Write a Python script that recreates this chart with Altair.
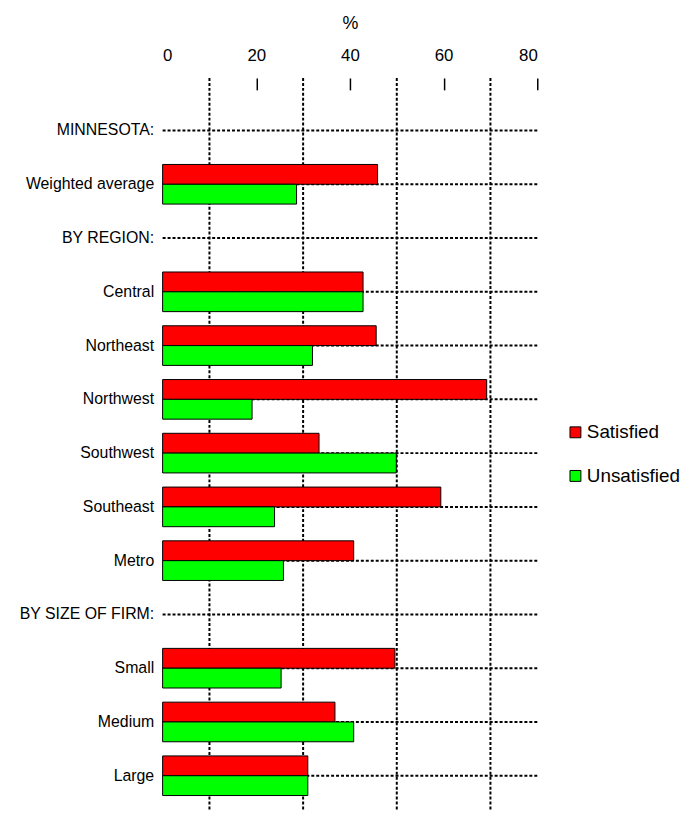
import altair as alt
import pandas as pd

categories = ["MINNESOTA:", "Weighted average", "BY REGION:", "Central", "Northeast",
              "Northwest", "Southwest", "Southeast", "Metro", "BY SIZE OF FIRM:",
              "Small", "Medium", "Large"]
satisfied = [None, 45.9, None, 42.8, 45.6, 69.2, 33.4, 59.4, 40.8, None, 49.6, 36.8, 31.0]
unsatisfied = [None, 28.6, None, 42.8, 32.0, 19.1, 49.9, 23.9, 25.8, None, 25.3, 40.8, 31.0]
series = ["Satisfied", "Unsatisfied"]
colors = ["#ff0000", "#00ff00"]
x_domain = [0, 80]
x_ticks = [0, 20, 40, 60, 80]
grid_values = [10, 30, 50, 70]

rows = []
for c, s, u in zip(categories, satisfied, unsatisfied):
    if s is not None:
        rows.append({"category": c, "series": "Satisfied", "value": s})
    if u is not None:
        rows.append({"category": c, "series": "Unsatisfied", "value": u})
bars_df = pd.DataFrame(rows)
cat_df = pd.DataFrame({"category": categories, "start": x_domain[0], "end": x_domain[1]})
grid_df = pd.DataFrame({"v": grid_values})

x_scale = alt.Scale(domain=x_domain, nice=False, zero=True)
y_scale = alt.Scale(domain=categories, paddingInner=0.263, paddingOuter=0.452, align=0.673)

x_axis = alt.Axis(orient="top", values=x_ticks, title="%", grid=False, domain=False,
                  tickSize=12, offset=-12, tickColor="black", tickWidth=1.5,
                  tickOpacity={"condition": {"test": "datum.value == 0", "value": 0}, "value": 1},
                  labelFontSize=17, labelColor="black", labelPadding=14,
                  titleFontSize=18, titleFontWeight="normal", titleColor="black",
                  titlePadding=14)
y_axis = alt.Axis(title=None, ticks=False, domain=False, grid=False, labelPadding=9,
                  labelFontSize=16, labelColor="black", labelLimit=300)

hlines = alt.Chart(cat_df).mark_rule(color="black", strokeWidth=2, strokeDash=[3, 2]).encode(
    y=alt.Y("category:N", scale=y_scale, sort=categories, axis=y_axis),
    x=alt.X("start:Q", scale=x_scale, axis=x_axis),
    x2="end:Q",
)

vlines = alt.Chart(grid_df).mark_rule(color="black", strokeWidth=2, strokeDash=[3, 2]).encode(
    x=alt.X("v:Q", scale=x_scale, axis=x_axis),
)

bars = alt.Chart(bars_df).mark_bar(stroke="black", strokeWidth=1).encode(
    x=alt.X("value:Q", scale=x_scale, axis=x_axis),
    y=alt.Y("category:N", scale=y_scale, sort=categories, axis=y_axis),
    yOffset=alt.YOffset("series:N", sort=series, scale=alt.Scale(paddingInner=0, paddingOuter=0)),
    color=alt.Color("series:N", scale=alt.Scale(domain=series, range=colors),
                    legend=alt.Legend(title=None, orient="none", legendX=407, legendY=348,
                                      symbolType="square", symbolSize=121,
                                      symbolStrokeColor="black", symbolStrokeWidth=1,
                                      labelFontSize=19, labelColor="black", rowPadding=24,
                                      padding=0, labelOffset=2)),
)

chart = alt.layer(hlines, vlines, bars).properties(
    width=378, height=740,
    padding={"left": 10, "top": 3, "right": 0, "bottom": 0},
).configure(font="Liberation Sans").configure_view(stroke=None)

chart.save("out.html", embed_options={"renderer": "svg", "actions": False})
